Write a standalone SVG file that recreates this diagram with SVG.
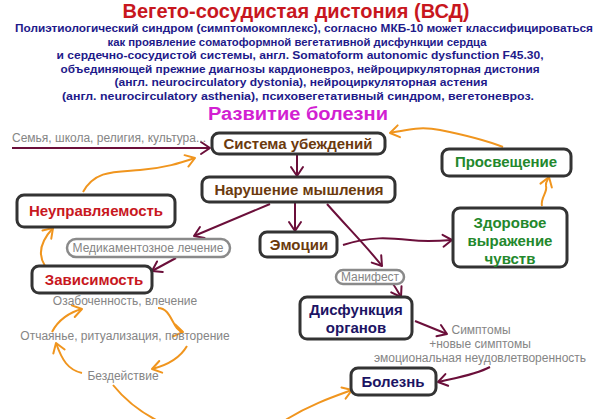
<svg xmlns="http://www.w3.org/2000/svg" width="600" height="419" viewBox="0 0 600 419">
<defs>
<marker id="am" markerUnits="userSpaceOnUse" markerWidth="16" markerHeight="16" refX="12" refY="8" orient="auto">
<path d="M3,2 L12,8 L3,14" fill="none" stroke="#6b0f3a" stroke-width="2" stroke-linecap="round" stroke-linejoin="round"/>
</marker>
<marker id="ao" markerUnits="userSpaceOnUse" markerWidth="16" markerHeight="16" refX="12" refY="8" orient="auto">
<path d="M3,2 L12,8 L3,14" fill="none" stroke="#f0951e" stroke-width="2" stroke-linecap="round" stroke-linejoin="round"/>
</marker>
</defs>
<style>
text{font-family:"Liberation Sans",Arial,sans-serif}
.box{fill:#fff;stroke:#333;stroke-width:3}
.pill{fill:#fff;stroke:#8a8a8a;stroke-width:2.5}
.b{font-weight:bold;font-size:15px;text-anchor:middle}
.brown{fill:#6b3a0e}
.red{fill:#c8171e}
.green{fill:#23882c}
.navy{fill:#1c1464}
.gray{fill:#858585;font-size:12px;text-anchor:middle}
.sub{font-weight:bold;font-size:11px;fill:#1e1a8a;text-anchor:middle}
.m{fill:none;stroke:#6b0f3a;stroke-width:2;marker-end:url(#am)}
.o{fill:none;stroke:#f0951e;stroke-width:2;marker-end:url(#ao)}
</style>
<rect width="600" height="419" fill="#fff"/>
<g id="header">
<text x="296" y="18" font-size="20" font-weight="bold" fill="#c8171e" text-anchor="middle" textLength="347" lengthAdjust="spacingAndGlyphs">Вегето-сосудистая дистония (ВСД)</text>
<text class="sub" x="304" y="32" textLength="578" lengthAdjust="spacingAndGlyphs">Полиэтиологический синдром (симптомокомплекс), согласно МКБ-10 может классифицироваться</text>
<text class="sub" x="297" y="45.5" textLength="379" lengthAdjust="spacingAndGlyphs">как проявление соматоформной вегетативной дисфункции сердца</text>
<text class="sub" x="300" y="59" textLength="487" lengthAdjust="spacingAndGlyphs">и сердечно-сосудистой системы, англ. Somatoform autonomic dysfunction F45.30,</text>
<text class="sub" x="300" y="72.5" textLength="479" lengthAdjust="spacingAndGlyphs">объединяющей прежние диагнозы кардионевроз, нейроциркуляторная дистония</text>
<text class="sub" x="301" y="86" textLength="373" lengthAdjust="spacingAndGlyphs">(англ. neurocirculatory dystonia), нейроциркуляторная астения</text>
<text class="sub" x="298" y="99.5" textLength="472" lengthAdjust="spacingAndGlyphs">(англ. neurocirculatory asthenia), психовегетативный синдром, вегетоневроз.</text>
<text x="298" y="120" font-size="18" font-weight="bold" fill="#d21fd2" text-anchor="middle" textLength="180" lengthAdjust="spacingAndGlyphs">Развитие болезни</text>
</g>
<g id="connectors">
<path class="m" d="M12,148 L210,148"/>
<path class="m" d="M297,155 L297,176"/>
<path class="m" d="M295,203 L295,231"/>
<path class="m" d="M270,204 L194,236"/>
<path class="m" d="M327,204 C350,230 368,248 382,266"/>
<path class="m" d="M393,284 C396,288 398,292 401,297"/>
<path class="m" d="M176,258 L152,271"/>
<path class="m" d="M343,245 C370,236 390,238 410,240 C425,242 440,241 452,240"/>
<path class="m" d="M415,321 L447,334"/>
<path class="m" d="M490,367 C475,375 455,378 438,382"/>
<path class="o" d="M83,192 C95,170 115,172 140,170 C165,168 180,163 195,158"/>
<path class="o" d="M45,266 C38,255 40,242 53,228"/>
<path class="o" d="M503,147 C480,138 460,134 440,130 C420,126 405,130 390,133"/>
<path class="o" d="M542,206 C540,198 548,192 546,186 C545,182 548,180 549,177"/>
<path class="o" d="M158,308 C172,308 172,330 183,332"/>
<path class="o" d="M187,346 C180,358 168,365 152,369"/>
<path class="o" d="M82,373 C68,370 62,360 56,343"/>
<path class="o" d="M52,332 C58,320 70,312 82,309"/>
<path class="o" d="M113,385 C125,400 140,412 160,422 C200,442 260,440 287,419 C310,405 330,398 352,390"/>
</g>
<g id="n-semya"><text class="gray" x="109" y="142">Семья, школа, религия, культура...</text></g>
<g id="n-sistema">
<rect class="box" x="212" y="133" width="173" height="21" rx="7"/>
<text class="b brown" x="298" y="149">Система убеждений</text>
</g>
<g id="n-narushenie">
<rect class="box" x="202" y="177" width="193" height="25" rx="7"/>
<text class="b brown" x="299" y="195">Нарушение мышления</text>
</g>
<g id="n-emocii">
<rect class="box" x="260" y="232" width="77" height="25" rx="7"/>
<text class="b brown" x="299" y="250">Эмоции</text>
</g>
<g id="n-neupr">
<rect class="box" x="17" y="195" width="158" height="32" rx="7"/>
<text class="b red" x="96" y="216">Неуправляемость</text>
</g>
<g id="n-medik">
<rect class="pill" x="67" y="239" width="163" height="18" rx="9"/>
<text class="gray" x="148" y="252">Медикаментозное лечение</text>
</g>
<g id="n-zavis">
<rect class="box" x="32" y="266" width="120" height="27" rx="7"/>
<text class="b red" x="94" y="285">Зависимость</text>
</g>
<g id="n-ozab"><text class="gray" x="125" y="305">Озабоченность, влечение</text></g>
<g id="n-otch"><text class="gray" x="125" y="340">Отчаянье, ритуализация, повторение</text></g>
<g id="n-bezd"><text class="gray" x="123" y="380">Бездействие</text></g>
<g id="n-manifest">
<rect class="pill" x="336" y="270" width="68" height="14" rx="7"/>
<text class="gray" x="370" y="281">Манифест</text>
</g>
<g id="n-disf">
<rect class="box" x="300" y="297" width="112" height="42" rx="7"/>
<text class="b navy" x="356" y="315" font-size="16">Дисфункция</text>
<text class="b navy" x="356" y="333" font-size="16">органов</text>
</g>
<g id="n-simpt">
<text class="gray" x="481" y="334">Симптомы</text>
<text class="gray" x="480" y="348">+новые симптомы</text>
<text class="gray" x="480" y="362">эмоциональная неудовлетворенность</text>
</g>
<g id="n-bolezn">
<rect class="box" x="351" y="368" width="85" height="27" rx="7"/>
<text class="b navy" x="393" y="387" font-size="16">Болезнь</text>
</g>
<g id="n-prosv">
<rect class="box" x="442" y="149" width="129" height="27" rx="7"/>
<text class="b green" x="506" y="167">Просвещение</text>
</g>
<g id="n-zdor">
<rect class="box" x="453" y="208" width="114" height="59" rx="7"/>
<text class="b green" x="510" y="228">Здоровое</text>
<text class="b green" x="510" y="246">выражение</text>
<text class="b green" x="510" y="264">чувств</text>
</g>
</svg>
